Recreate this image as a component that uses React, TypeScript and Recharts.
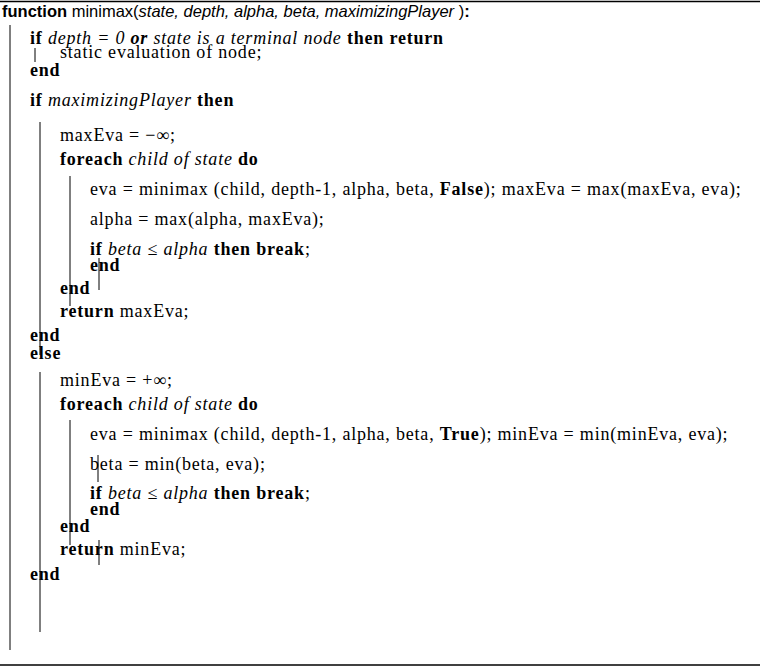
import React from "react";
import { Surface, Layer } from "recharts";

type Seg = [string, string]; // [style, text] style: n normal, b bold, i italic, bi bold italic
const header: Seg[] = [["b", "function"], ["n", " minimax("], ["i", "state, depth, alpha, beta, maximizingPlayer"], ["n", " )"], ["b", ":"]];
const lines: { lvl: number; segs: Seg[] }[] = [
  { lvl: 1, segs: [["b", "if "], ["i", "depth = 0 "], ["bi", "or"], ["i", " state is a terminal node "], ["b", "then return"]] },
  { lvl: 2, segs: [["n", "static evaluation of node;"]] },
  { lvl: 1, segs: [["b", "end"]] },
  { lvl: 1, segs: [["b", "if "], ["i", "maximizingPlayer "], ["b", "then"]] },
  { lvl: 2, segs: [["n", "maxEva = −∞;"]] },
  { lvl: 2, segs: [["b", "foreach "], ["i", "child of state "], ["b", "do"]] },
  { lvl: 3, segs: [["n", "eva = minimax (child, depth-1, alpha, beta, "], ["b", "False"], ["n", "); maxEva = max(maxEva, eva);"]] },
  { lvl: 3, segs: [["n", "alpha = max(alpha, maxEva);"]] },
  { lvl: 3, segs: [["b", "if "], ["i", "beta ≤ alpha "], ["b", "then break"], ["n", ";"]] },
  { lvl: 3, segs: [["b", "end"]] },
  { lvl: 2, segs: [["b", "end"]] },
  { lvl: 2, segs: [["b", "return"], ["n", " maxEva;"]] },
  { lvl: 1, segs: [["b", "end"]] },
  { lvl: 1, segs: [["b", "else"]] },
  { lvl: 2, segs: [["n", "minEva = +∞;"]] },
  { lvl: 2, segs: [["b", "foreach "], ["i", "child of state "], ["b", "do"]] },
  { lvl: 3, segs: [["n", "eva = minimax (child, depth-1, alpha, beta, "], ["b", "True"], ["n", "); minEva = min(minEva, eva);"]] },
  { lvl: 3, segs: [["n", "beta = min(beta, eva);"]] },
  { lvl: 3, segs: [["b", "if "], ["i", "beta ≤ alpha "], ["b", "then break"], ["n", ";"]] },
  { lvl: 3, segs: [["b", "end"]] },
  { lvl: 2, segs: [["b", "end"]] },
  { lvl: 2, segs: [["b", "return"], ["n", " minEva;"]] },
  { lvl: 1, segs: [["b", "end"]] },
];
const baselines = [44, 58, 76, 106, 141, 165, 195, 225, 255, 271, 294, 317, 341, 359, 386, 410, 440, 470, 499, 515, 532, 555, 580];
const indentX = [0, 30, 60, 90];
// vertical guide bars: [x, y1, y2]
const bars: [number, number, number][] = [
  [10, 25, 650], [35, 48, 62], [40, 122, 355], [70, 176, 306], [99, 258, 290],
  [40, 372, 632], [70, 420, 545], [98, 455, 482], [99, 540, 565],
];

const styleOf = (s: string) => ({
  fontWeight: s.includes("b") ? 700 : 400,
  fontStyle: s.includes("i") ? "italic" : "normal",
});

export default function App() {
  return (
    <div style={{ position: "absolute", left: 0, top: 0 }}>
      <Surface width={780} height={668}>
        <rect x={0} y={0} width={780} height={668} fill="#fff" />
        <line x1={0} y1={1.5} x2={760} y2={1.5} stroke="#000" strokeWidth={1.5} />
        <line x1={0} y1={665} x2={760} y2={665} stroke="#000" strokeWidth={1.5} />
        <Layer>
          {bars.map(([x, a, b], i) => (
            <line key={i} x1={x} y1={a} x2={x} y2={b} stroke="#000" strokeWidth={1} />
          ))}
        </Layer>
        <text x={2} y={17} fontFamily="Liberation Sans, Arial" fontSize={16.5} fill="#000">
          {header.map(([s, t], i) => (
            <tspan key={i} {...styleOf(s)}>{t}</tspan>
          ))}
        </text>
        {lines.map((l, i) => (
          <text key={i} x={indentX[l.lvl]} y={baselines[i]} fontFamily="Liberation Serif, Times New Roman" fontSize={18} letterSpacing={0.8} fill="#000" style={{ whiteSpace: "pre" }}>
            {l.segs.map(([s, t], j) => (
              <tspan key={j} {...styleOf(s)}>{t}</tspan>
            ))}
          </text>
        ))}
      </Surface>
    </div>
  );
}
